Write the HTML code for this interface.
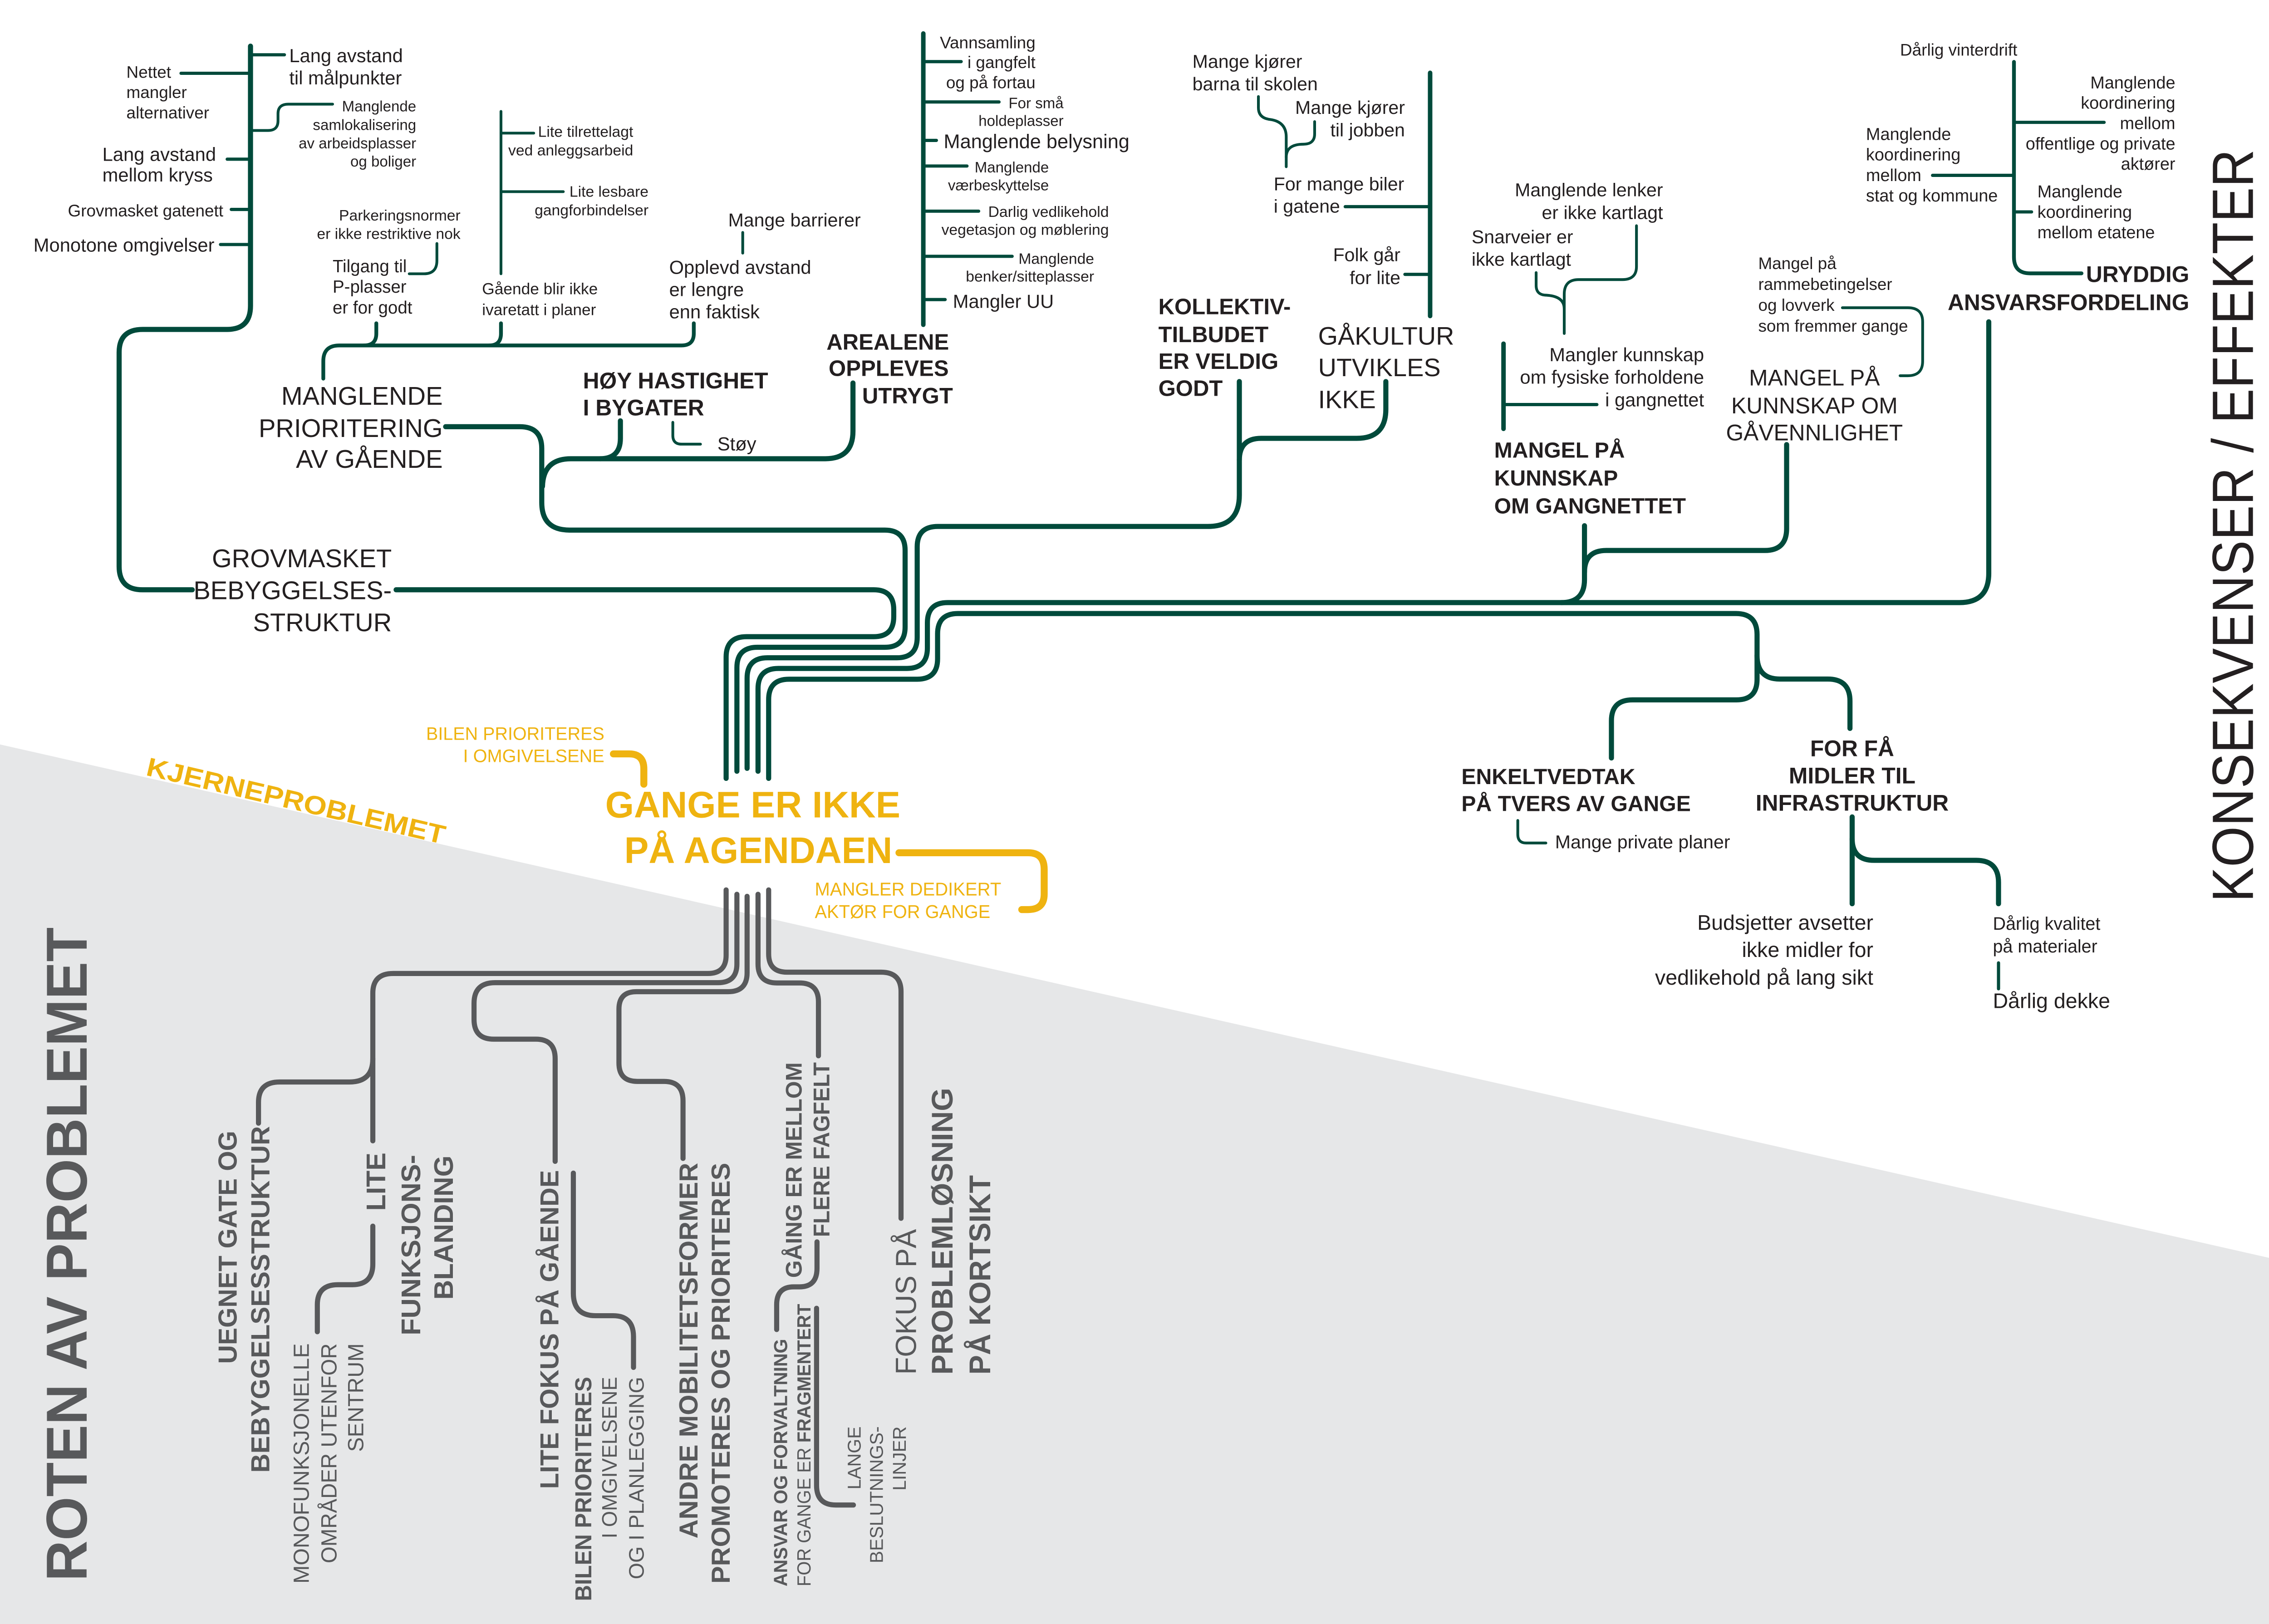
<!DOCTYPE html>
<html>
<head>
<meta charset="utf-8">
<style>
html,body{margin:0;padding:0;background:#fff;overflow:hidden}
svg{display:block}
text{font-family:"Liberation Sans",Arial,sans-serif;fill:#231f20}
.b{font-weight:bold}
.g{fill:#58595b}
.y{fill:#efb310}
.e{text-anchor:end}
.m{text-anchor:middle}
path,line{fill:none;stroke-linecap:round;stroke-linejoin:round}
.G{stroke:#004a3b}
.Y{stroke:#efb310}
.R{stroke:#58595b}
</style>
</head>
<body>
<svg xmlns="http://www.w3.org/2000/svg" width="5032" height="3579" viewBox="0 0 1568 1115.2">
<rect x="0" y="0" width="1568" height="1115.2" fill="#ffffff"/>
<polygon points="0,511.2 1568,866 1568,1115.2 0,1115.2" fill="#e6e7e8"/>

<!-- ============ GREEN MAIN TRUNK LINES ============ -->
<g class="G" stroke-width="3.5">
  <!-- G1 grovmasket -->
  <path d="M172 31.7 V210 Q172 226.2 156 226.2 H98 Q81.8 226.2 81.8 242 V389 Q81.8 405 98 405 H132"/>
  <path d="M272 405 H600 Q613.7 405 613.7 418.7 V423.5 Q613.7 437.2 600 437.2 H512.6 Q498.6 437.2 498.6 451.2 V534.5"/>
  <!-- G2 manglende prioritering / hoy / arealene -->
  <path d="M306 293 H357 Q372 293 372 308 V345 Q372 364 391 364 H607.6 Q621.5 364 621.5 378 V430.5 Q621.5 444.5 607.5 444.5 H520 Q506 444.5 506 458.5 V529.6"/>
  <path d="M585.7 263 V296 Q585.7 315 566.7 315 H392 Q373 315 372.5 334"/>
  <path d="M426 289 V301 Q426 315 412 315"/>
  <!-- G3 kollektiv / gakultur -->
  <path d="M851 262 V340 Q851 361.5 829.5 361.5 H644 Q629.8 361.5 629.8 375.5 V437.7 Q629.8 451.7 615.8 451.7 H527 Q513 451.7 513 465.7 V527.6"/>
  <path d="M951.6 262 V281 Q951.6 301 931.6 301 H866 Q851 301 851 316"/>
  <!-- G4 uryddig / gangnettet / gavennlighet -->
  <path d="M1365.6 221 V393.7 Q1365.6 413.8 1345.5 413.8 H650.7 Q636.8 413.8 636.8 427.7 V445 Q636.8 459 622.8 459 H534.5 Q520.5 459 520.5 473 V529.6"/>
  <path d="M1088 361 V398 Q1088 413.8 1072 413.8"/>
  <path d="M1226.8 305.3 V363 Q1226.8 378 1211.8 378 H1103 Q1088 378 1088 393"/>
  <!-- G5 enkeltvedtak / for fa -->
  <path d="M527.8 534.5 V480.4 Q527.8 466.4 541.8 466.4 H629.8 Q643.8 466.4 643.8 452.4 V435.3 Q643.8 421.3 657.8 421.3 H1192 Q1206.5 421.3 1206.5 435.8 V466.5 Q1206.5 480.6 1192.4 480.6 H1121 Q1106.5 480.6 1106.5 495 V520.5"/>
  <path d="M1206.5 450 Q1206.5 466.3 1222 466.3 H1255 Q1270.3 466.3 1270.3 481.5 V500.2"/>
  <!-- infrastruktur -->
  <path d="M1271.8 561 V620.6"/>
  <path d="M1271.8 576 Q1271.8 590.8 1287 590.8 H1357 Q1372.3 590.8 1372.3 606 V620.6"/>
</g>

<!-- secondary green lines -->
<g class="G" stroke-width="3.1">
  <line x1="634" y1="23" x2="634" y2="223"/>
  <line x1="982" y1="50" x2="982" y2="217"/>
  <line x1="1032.4" y1="236" x2="1032.4" y2="294.5"/>
</g>
<g class="G" stroke-width="2.6">
  <path d="M222 260 V248 Q222 237.2 233 237.2 H468 Q476.4 237.2 476.4 229 V222"/>
  <path d="M258.4 222 V229 Q258.4 237.2 250 237.2"/>
  <path d="M344 222 V229 Q344 237.2 336 237.2"/>
  <path d="M1382.9 42.5 V176.5 Q1382.9 187.7 1394 187.7 H1429.3"/>
</g>
<!-- ticks -->
<g class="G" stroke-width="2.2">
  <line x1="172" y1="37.6" x2="195.3" y2="37.6"/>
  <line x1="124.3" y1="50.3" x2="172" y2="50.3"/>
  <line x1="156" y1="109.3" x2="172" y2="109.3"/>
  <line x1="158.8" y1="143.8" x2="172" y2="143.8"/>
  <line x1="151.4" y1="167.9" x2="172" y2="167.9"/>
  <line x1="634" y1="42.3" x2="660" y2="42.3"/>
  <line x1="634" y1="70" x2="686" y2="70"/>
  <line x1="634" y1="96.4" x2="643" y2="96.4"/>
  <line x1="634" y1="114" x2="664" y2="114"/>
  <line x1="634" y1="145" x2="672" y2="145"/>
  <line x1="634" y1="176" x2="695" y2="176"/>
  <line x1="634" y1="205.7" x2="649" y2="205.7"/>
  <line x1="923.7" y1="141.9" x2="982" y2="141.9"/>
  <line x1="964.7" y1="188.4" x2="982" y2="188.4"/>
  <line x1="1032.4" y1="277.8" x2="1096.5" y2="277.8"/>
  <line x1="1383" y1="84" x2="1444.8" y2="84"/>
  <line x1="1327" y1="120.4" x2="1383" y2="120.4"/>
  <line x1="1383" y1="145.5" x2="1395" y2="145.5"/>
  <line x1="1372.3" y1="661.2" x2="1372.3" y2="679"/>
</g>
<!-- thin connectors -->
<g class="G" stroke-width="1.9">
  <path d="M172 89.6 H184 Q190.9 89.6 190.9 83 V78 Q190.9 71.5 198 71.5 H228.4"/>
  <line x1="344" y1="76.5" x2="344" y2="188"/>
  <line x1="344" y1="91.4" x2="366.5" y2="91.4"/>
  <line x1="344" y1="131.6" x2="386.8" y2="131.6"/>
  <path d="M281 188 H291 Q300 188 300 179 V167.2"/>
  <line x1="510" y1="159.6" x2="510" y2="173.8"/>
  <path d="M462 290 V299 Q462 305 468 305 H481"/>
  <path d="M864.1 66.3 V74 Q864.1 81 872 82 Q883.2 83.5 883.2 94 V114.5"/>
  <path d="M902.7 83.5 V92 Q902.7 99 895 99 Q883.2 99 883.2 108"/>
  <path d="M1123.7 155 V183 Q1123.7 192 1114 192 H1084 Q1074.1 192 1074.1 202 V229"/>
  <path d="M1054.8 187.2 V196 Q1054.8 202.7 1062 202.7 Q1074.1 203.5 1074.1 212"/>
  <path d="M1265.1 211.3 H1310 Q1320.2 211.3 1320.2 221 V248 Q1320.2 258 1310 258 H1304.7"/>
  <path d="M1042.2 563.4 V573 Q1042.2 578.9 1048 578.9 H1061.5"/>
</g>

<!-- ============ YELLOW ============ -->
<g class="Y" stroke-width="4.8">
  <path d="M421.2 517.7 H432 Q442.1 517.7 442.1 528 V538.5"/>
  <path d="M617.3 585.6 H706 Q717 585.6 717 597 V614 Q717 624.6 706 624.6 H701.6"/>
</g>

<!-- ============ GRAY ROOT LINES ============ -->
<g class="R" stroke-width="3.5">
  <path d="M498.6 611.1 V656 Q498.6 668.5 486 668.5 H270 Q256 668.5 256 682 V783.4"/>
  <path d="M256 727 Q256 743 240 743 H192 Q177.5 743 177.5 757 V771.3"/>
  <path d="M256 842 V868 Q256 882.2 242 882.2 H232 Q217.9 882.2 217.9 896 V914.5"/>
  <path d="M506 614.1 V662 Q506 674.8 493 674.8 H340 Q325.5 674.8 325.5 689 V700 Q325.5 713.6 339 713.6 H368 Q381.2 713.6 381.2 727 V797.5"/>
  <path d="M393.7 805.6 V888 Q393.7 903.5 409 903.5 H421 Q435 903.5 435 918 V939"/>
  <path d="M513 615.5 V668 Q513 681 500 681 H437 Q425 681 425 693 V730 Q425 742.6 437.6 742.6 H456 Q469 742.6 469 756 V795.5"/>
  <path d="M520.5 614.1 V662 Q520.5 675 533.5 675 H549 Q562 675 562 688 V725"/>
  <path d="M527.8 611.1 V655 Q527.8 667.6 540.4 667.6 H605 Q618.7 667.6 618.7 681 V836.6"/>
  <path d="M561 852.8 V871 Q561 883.7 549 883.7 H545 Q533.3 883.7 533.3 896 V913"/>
  <path d="M560.7 898.4 V1020 Q560.7 1033.5 574 1033.5 H586"/>
</g>

<!-- ============ TOP TEXTS ============ -->
<text x="198.6" y="42.6" font-size="13">Lang avstand</text>
<text x="198.6" y="57.9" font-size="13">til målpunkter</text>
<g font-size="11.5"><text x="86.8" y="53.5">Nettet</text><text x="86.8" y="67.3">mangler</text><text x="86.8" y="81.3">alternativer</text></g>
<g font-size="10.3" class="e"><text x="285.8" y="76.5">Manglende</text><text x="285.8" y="89.2">samlokalisering</text><text x="285.8" y="101.9">av arbeidsplasser</text><text x="285.8" y="114.3">og boliger</text></g>
<text x="70.3" y="110.4" font-size="13">Lang avstand</text>
<text x="70.3" y="124.6" font-size="13">mellom kryss</text>
<text x="46.6" y="148.6" font-size="11.5">Grovmasket gatenett</text>
<text x="23" y="172.7" font-size="13">Monotone omgivelser</text>
<g font-size="10.5" class="e"><text x="316.2" y="151.5">Parkeringsnormer</text><text x="316.2" y="164">er ikke restriktive nok</text></g>
<g font-size="12"><text x="228.4" y="187">Tilgang til</text><text x="228.4" y="201">P-plasser</text><text x="228.4" y="215.3">er for godt</text></g>
<g font-size="10.5" class="e"><text x="434.8" y="94">Lite tilrettelagt</text><text x="434.8" y="106.7">ved anleggsarbeid</text><text x="445.3" y="135">Lite lesbare</text><text x="445.3" y="147.8">gangforbindelser</text></g>
<g font-size="11"><text x="331" y="202">Gående blir ikke</text><text x="331" y="216.4">ivaretatt i planer</text></g>
<text x="500" y="155.4" font-size="12.8">Mange barrierer</text>
<g font-size="13"><text x="459.5" y="188">Opplevd avstand</text><text x="459.5" y="203.3">er lengre</text><text x="459.5" y="218.6">enn faktisk</text></g>
<g font-size="17.5" class="e"><text x="304" y="278">MANGLENDE</text><text x="304" y="300">PRIORITERING</text><text x="304" y="321.3">AV GÅENDE</text></g>
<g font-size="15.5" class="b"><text x="400.3" y="266.7">HØY HASTIGHET</text><text x="400.3" y="285.2">I BYGATER</text></g>
<text x="492.6" y="309.3" font-size="13">Støy</text>
<g font-size="17.5" class="e"><text x="269" y="389.5">GROVMASKET</text><text x="269" y="411.5">BEBYGGELSES-</text><text x="269" y="433.5">STRUKTUR</text></g>

<!-- arealene -->
<g font-size="11.5" class="e"><text x="711" y="33.1">Vannsamling</text><text x="711" y="46.8">i gangfelt</text><text x="711" y="60.6">og på fortau</text></g>
<g font-size="10.3" class="e"><text x="730.3" y="74.3">For små</text><text x="730.3" y="86.4">holdeplasser</text></g>
<text x="648" y="101.7" font-size="13.5">Manglende belysning</text>
<g font-size="10.3" class="e"><text x="720.2" y="118.4">Manglende</text><text x="720.2" y="130.7">værbeskyttelse</text></g>
<g font-size="10.5" class="e"><text x="761.4" y="149">Darlig vedlikehold</text><text x="761.4" y="161.3">vegetasjon og møblering</text></g>
<g font-size="10.5" class="e"><text x="751.3" y="181.2">Manglende</text><text x="751.3" y="193.3">benker/sitteplasser</text></g>
<text x="654.3" y="211.4" font-size="13">Mangler UU</text>
<g font-size="15.3" class="b"><text x="567.5" y="240">AREALENE</text><text x="569" y="258.2">OPPLEVES</text><text x="592" y="277">UTRYGT</text></g>

<!-- kollektiv / gakultur -->
<g font-size="12.8"><text x="818.8" y="46.5">Mange kjører</text><text x="818.8" y="62">barna til skolen</text></g>
<g font-size="12.8" class="e"><text x="964.7" y="78.2">Mange kjører</text><text x="964.7" y="93.7">til jobben</text></g>
<g font-size="12.8"><text x="874.6" y="130.7">For mange biler</text><text x="874.6" y="146">i gatene</text></g>
<g font-size="12.8" class="e"><text x="961.6" y="179.3">Folk går</text><text x="961.6" y="195">for lite</text></g>
<g font-size="15.3" class="b"><text x="795.4" y="215.8">KOLLEKTIV-</text><text x="795.4" y="234.9">TILBUDET</text><text x="795.4" y="253.3">ER VELDIG</text><text x="795.4" y="271.9">GODT</text></g>
<g font-size="17.4"><text x="905.1" y="236.6">GÅKULTUR</text><text x="905.1" y="258.3">UTVIKLES</text><text x="905.1" y="280.2">IKKE</text></g>

<!-- gangnettet -->
<g font-size="12.8" class="e"><text x="1141.9" y="134.7">Manglende lenker</text><text x="1141.9" y="150.3">er ikke kartlagt</text></g>
<g font-size="12.8"><text x="1010.5" y="167">Snarveier er</text><text x="1010.5" y="182.4">ikke kartlagt</text></g>
<g font-size="13" class="e"><text x="1170.1" y="248">Mangler kunnskap</text><text x="1170.1" y="263.5">om fysiske forholdene</text><text x="1170.1" y="279">i gangnettet</text></g>
<g font-size="15" class="b"><text x="1026" y="314.3">MANGEL PÅ</text><text x="1026" y="333.4">KUNNSKAP</text><text x="1026" y="352.5">OM GANGNETTET</text></g>
<g font-size="11.5"><text x="1207.3" y="184.8">Mangel på</text><text x="1207.3" y="199.1">rammebetingelser</text><text x="1207.3" y="213.5">og lovverk</text><text x="1207.3" y="227.8">som fremmer gange</text></g>
<g font-size="15.5" class="m"><text x="1245.9" y="264.7">MANGEL PÅ</text><text x="1245.9" y="283.8">KUNNSKAP OM</text><text x="1245.9" y="302.4">GÅVENNLIGHET</text></g>

<!-- uryddig -->
<text x="1304.7" y="38.2" font-size="11.5">Dårlig vinterdrift</text>
<g font-size="11.8" class="e"><text x="1493.7" y="60.8">Manglende</text><text x="1493.7" y="74.6">koordinering</text><text x="1493.7" y="88.7">mellom</text><text x="1493.7" y="102.6">offentlige og private</text><text x="1493.7" y="116.6">aktører</text></g>
<g font-size="11.8"><text x="1281.3" y="96.1">Manglende</text><text x="1281.3" y="110.2">koordinering</text><text x="1281.3" y="124.3">mellom</text><text x="1281.3" y="138.3">stat og kommune</text></g>
<g font-size="11.8"><text x="1399" y="135.5">Manglende</text><text x="1399" y="149.5">koordinering</text><text x="1399" y="163.6">mellom etatene</text></g>
<g font-size="15.5" class="b e"><text x="1503.3" y="193.7">URYDDIG</text><text x="1503.3" y="213">ANSVARSFORDELING</text></g>

<!-- lower right -->
<g font-size="15" class="b"><text x="1003.5" y="538.4">ENKELTVEDTAK</text><text x="1003.5" y="557">PÅ TVERS AV GANGE</text></g>
<text x="1067.8" y="582.5" font-size="12.8">Mange private planer</text>
<g font-size="15.5" class="b m"><text x="1271.8" y="519.3">FOR FÅ</text><text x="1271.8" y="537.9">MIDLER TIL</text><text x="1271.8" y="556.7">INFRASTRUKTUR</text></g>
<g font-size="14.5" class="e"><text x="1286.3" y="638.5">Budsjetter avsetter</text><text x="1286.3" y="657.1">ikke midler for</text><text x="1286.3" y="676.2">vedlikehold på lang sikt</text></g>
<g font-size="12.3"><text x="1368.4" y="638.5">Dårlig kvalitet</text><text x="1368.4" y="654">på materialer</text></g>
<text x="1368.4" y="692.2" font-size="14.5">Dårlig dekke</text>

<text transform="translate(1547,619.5) rotate(-90)" font-size="40" textLength="517" lengthAdjust="spacingAndGlyphs">KONSEKVENSER / EFFEKTER</text>

<!-- ============ YELLOW CORE ============ -->
<g class="y e" font-size="12.5"><text class="y" x="415" y="508" textLength="122.4" lengthAdjust="spacingAndGlyphs">BILEN PRIORITERES</text><text class="y" x="415" y="523.3" textLength="97" lengthAdjust="spacingAndGlyphs">I OMGIVELSENE</text></g>
<text class="y b" x="415.6" y="561.4" font-size="25.5" textLength="202.6" lengthAdjust="spacingAndGlyphs">GANGE ER IKKE</text>
<text class="y b" x="428.7" y="592.6" font-size="25.5" textLength="184" lengthAdjust="spacingAndGlyphs">PÅ AGENDAEN</text>
<text class="y" x="559.5" y="615" font-size="12.8" textLength="128" lengthAdjust="spacingAndGlyphs">MANGLER DEDIKERT</text>
<text class="y" x="559.5" y="630.4" font-size="12.8" textLength="120.5" lengthAdjust="spacingAndGlyphs">AKTØR FOR GANGE</text>
<text class="y b" transform="translate(99.6,532.2) rotate(13.07)" font-size="18" textLength="210" lengthAdjust="spacingAndGlyphs">KJERNEPROBLEMET</text>

<!-- ============ GRAY ROOT TEXTS ============ -->
<text class="g b" transform="translate(59.5,1085.8) rotate(-90)" font-size="39.5" textLength="449" lengthAdjust="spacingAndGlyphs">ROTEN AV PROBLEMET</text>

<text class="g b e" transform="translate(162.5,776.5) rotate(-90)" font-size="18" textLength="160" lengthAdjust="spacingAndGlyphs">UEGNET GATE OG</text>
<text class="g b e" transform="translate(185,773.3) rotate(-90)" font-size="18" textLength="238" lengthAdjust="spacingAndGlyphs">BEBYGGELSESSTRUKTUR</text>

<text class="g e" transform="translate(212,922.5) rotate(-90)" font-size="15" textLength="165" lengthAdjust="spacingAndGlyphs">MONOFUNKSJONELLE</text>
<text class="g e" transform="translate(231,922.5) rotate(-90)" font-size="15" textLength="151" lengthAdjust="spacingAndGlyphs">OMRÅDER UTENFOR</text>
<text class="g e" transform="translate(249.5,922.5) rotate(-90)" font-size="15" textLength="74.5" lengthAdjust="spacingAndGlyphs">SENTRUM</text>

<text class="g b e" transform="translate(264.5,791.5) rotate(-90)" font-size="18.5" textLength="40" lengthAdjust="spacingAndGlyphs">LITE</text>
<text class="g b e" transform="translate(288.5,793) rotate(-90)" font-size="18.5" textLength="124" lengthAdjust="spacingAndGlyphs">FUNKSJONS-</text>
<text class="g b e" transform="translate(311,793.5) rotate(-90)" font-size="18.5" textLength="99" lengthAdjust="spacingAndGlyphs">BLANDING</text>

<text class="g b e" transform="translate(383.5,803.5) rotate(-90)" font-size="18" textLength="219" lengthAdjust="spacingAndGlyphs">LITE FOKUS PÅ GÅENDE</text>
<text class="g b e" transform="translate(406,945.5) rotate(-90)" font-size="16" textLength="154" lengthAdjust="spacingAndGlyphs">BILEN PRIORITERES</text>
<text class="g e" transform="translate(423.5,945.5) rotate(-90)" font-size="14.5" textLength="111" lengthAdjust="spacingAndGlyphs">I OMGIVELSENE</text>
<text class="g e" transform="translate(442,945.5) rotate(-90)" font-size="14.5" textLength="139" lengthAdjust="spacingAndGlyphs">OG I PLANLEGGING</text>

<text class="g b e" transform="translate(479,798.5) rotate(-90)" font-size="18" textLength="258" lengthAdjust="spacingAndGlyphs">ANDRE MOBILITETSFORMER</text>
<text class="g b e" transform="translate(501,798.5) rotate(-90)" font-size="18" textLength="289" lengthAdjust="spacingAndGlyphs">PROMOTERES OG PRIORITERES</text>

<text class="g b e" transform="translate(550.5,729.5) rotate(-90)" font-size="15.5" textLength="148" lengthAdjust="spacingAndGlyphs">GÅING ER MELLOM</text>
<text class="g b e" transform="translate(569.5,729.5) rotate(-90)" font-size="15.5" textLength="120" lengthAdjust="spacingAndGlyphs">FLERE FAGFELT</text>

<text class="g b" transform="translate(540.5,1089.4) rotate(-90)" font-size="13" textLength="170" lengthAdjust="spacingAndGlyphs">ANSVAR OG FORVALTNING</text>
<text class="g" transform="translate(556.5,1089.4) rotate(-90)" font-size="13" textLength="194" lengthAdjust="spacingAndGlyphs">FOR GANGE ER <tspan class="g b">FRAGMENTERT</tspan></text>

<text class="g e" transform="translate(591,979.5) rotate(-90)" font-size="12.8">LANGE</text>
<text class="g e" transform="translate(606.3,979.5) rotate(-90)" font-size="12.8" textLength="94" lengthAdjust="spacingAndGlyphs">BESLUTNINGS-</text>
<text class="g e" transform="translate(622,979.5) rotate(-90)" font-size="12.8">LINJER</text>

<text class="g" transform="translate(629,944) rotate(-90)" font-size="20" textLength="100" lengthAdjust="spacingAndGlyphs">FOKUS PÅ</text>
<text class="g b" transform="translate(654,944) rotate(-90)" font-size="20.5" textLength="197" lengthAdjust="spacingAndGlyphs">PROBLEMLØSNING</text>
<text class="g b" transform="translate(680,944) rotate(-90)" font-size="20.5" textLength="137" lengthAdjust="spacingAndGlyphs">PÅ KORTSIKT</text>
</svg>
</body>
</html>
